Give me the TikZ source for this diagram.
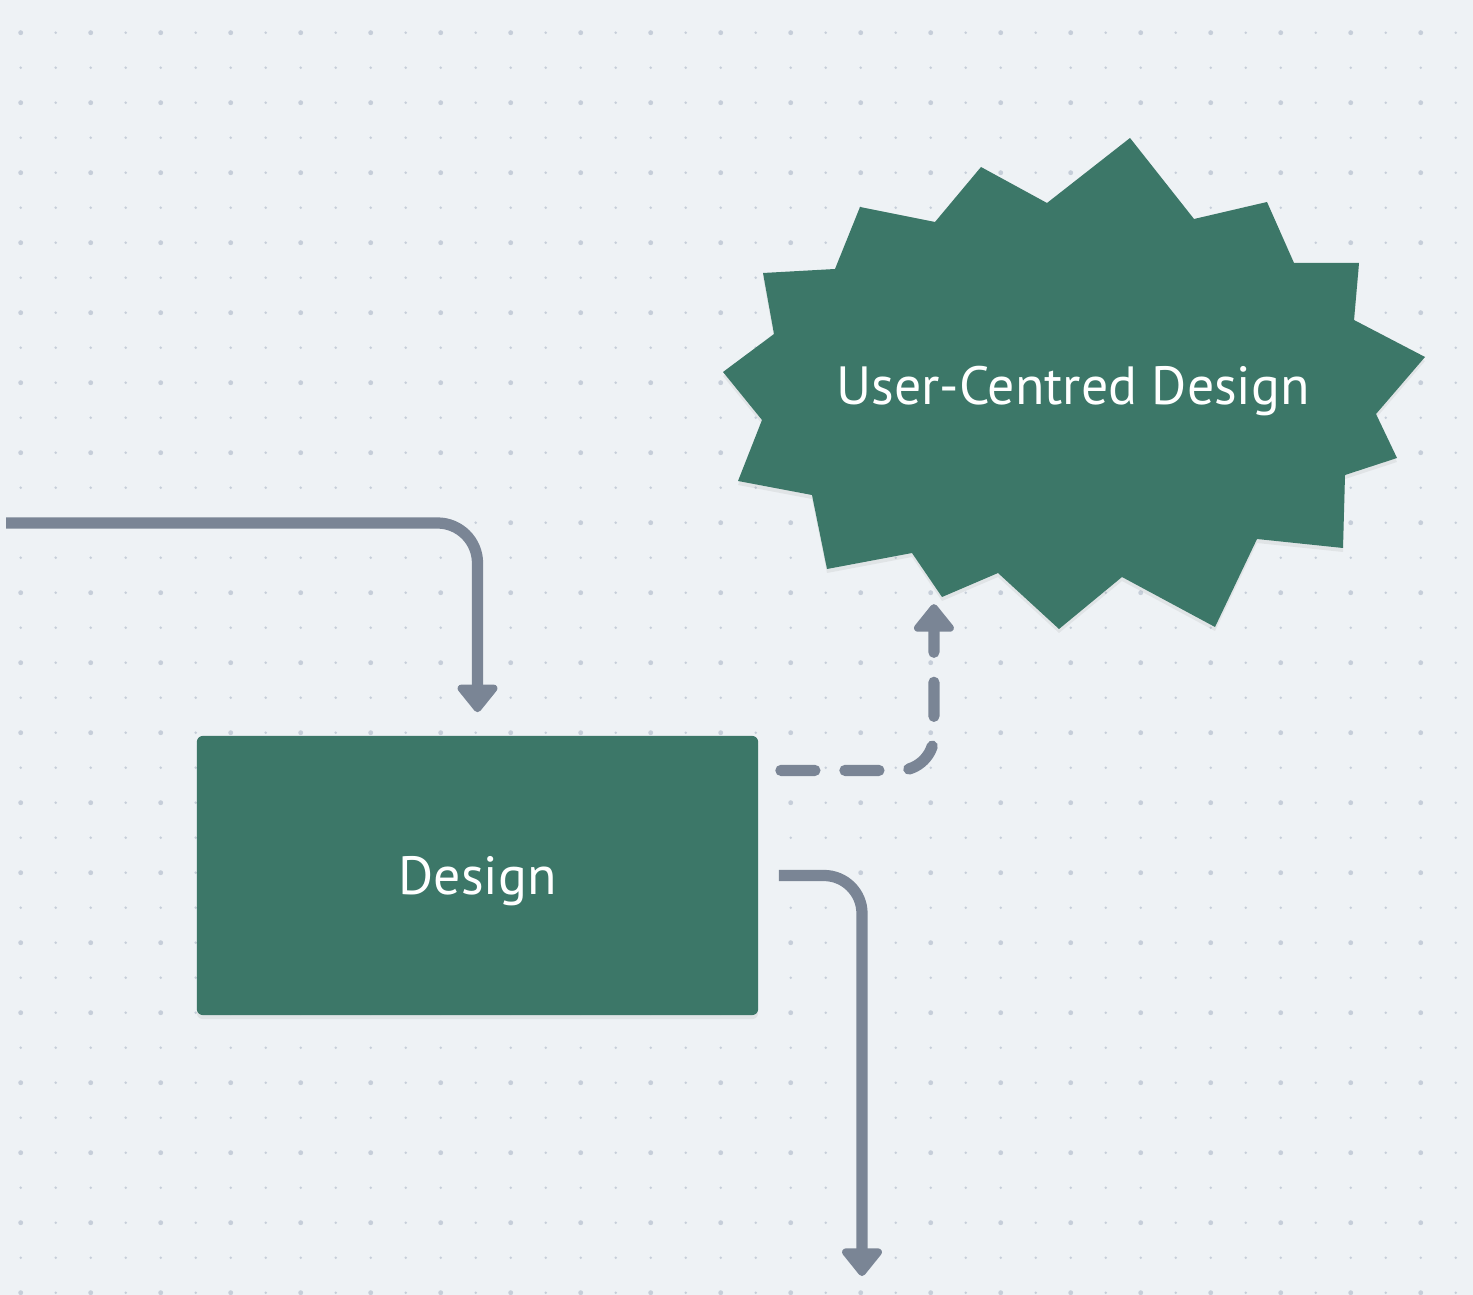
\documentclass[tikz,border=0pt]{standalone}
\usepackage{fontspec}
\setmainfont{PT Sans}
\usetikzlibrary{arrows.meta,shadows}
\definecolor{canvas}{RGB}{238,242,245}
\definecolor{gridDot}{RGB}{198,206,217}
\definecolor{blockGreen}{RGB}{60,119,104}
\definecolor{flowGrey}{RGB}{122,133,149}

\begin{document}
\begin{tikzpicture}[x=0.01cm, y=-0.01cm,
  soft/.style={drop shadow={opacity=0.12, shadow xshift=0pt, shadow yshift=-0.04cm}},
  label/.style={text=white, font=\fontsize{15.3}{18}\selectfont, inner sep=0pt,
    text height=0.37cm, text depth=0pt},
  block/.style={label, fill=blockGreen, rounded corners=0.06cm,
    minimum width=5.61cm, minimum height=2.79cm, soft},
  flow/.style={draw=flowGrey, line width=3.2pt, rounded corners=0.4cm,
    -{Triangle[width=0.46cm, length=0.3cm, round]}}]
  \fill[canvas] (0,0) rectangle (1473,1295);
  \useasboundingbox (0,0) rectangle (1473,1295);
  % dotted grid
  \foreach \i in {0,...,41}
    \foreach \j in {0,...,36} {
      \pgfmathtruncatemacro\big{and(mod(\i,2)==0, mod(\j,2)==0)}
      \ifnum\big=1
        \fill[gridDot] (20.7+35*\i, 32.7+35*\j) circle (0.7pt);
      \else
        \fill[gridDot] (20.7+35*\i, 32.7+35*\j) circle (0.4pt);
      \fi
    }
  % starburst
  \fill[blockGreen, soft] (1130,138) -- (1194,219) -- (1267,202) -- (1294,263)
    -- (1359,263) -- (1354,320) -- (1425,357) -- (1376,414) -- (1397,458)
    -- (1345,475) -- (1343,548) -- (1257,539) -- (1215,627) -- (1122,577)
    -- (1059,629) -- (998,573) -- (942,597) -- (912,553) -- (827,569)
    -- (812,495) -- (738,481) -- (762,420) -- (723,372) -- (774,334)
    -- (763,273) -- (835,269) -- (860,207) -- (935,222) -- (981,167)
    -- (1047,203) -- cycle;
  \node[label] (ucd) at (1073,386) {User-Centred Design};
  \node[block] (design) at (477.5,875.5) {Design};
  \coordinate (in) at (6,523);
  \coordinate (out) at (862,1276);
  \draw[flow, shorten >=0.23cm] (in) -| (design.north);
  \draw[flow, rounded corners=0.35cm, line cap=round,
    dash pattern=on 0.34cm off 0.3cm]
    ([xshift=0.22cm, yshift=1.05cm]design.east)
    -| ([xshift=-1.39cm, yshift=-2.18cm]ucd.center);
  \draw[flow, rounded corners=0.38cm] ([xshift=0.2cm]design.east) -| (out);
\end{tikzpicture}
\end{document}
